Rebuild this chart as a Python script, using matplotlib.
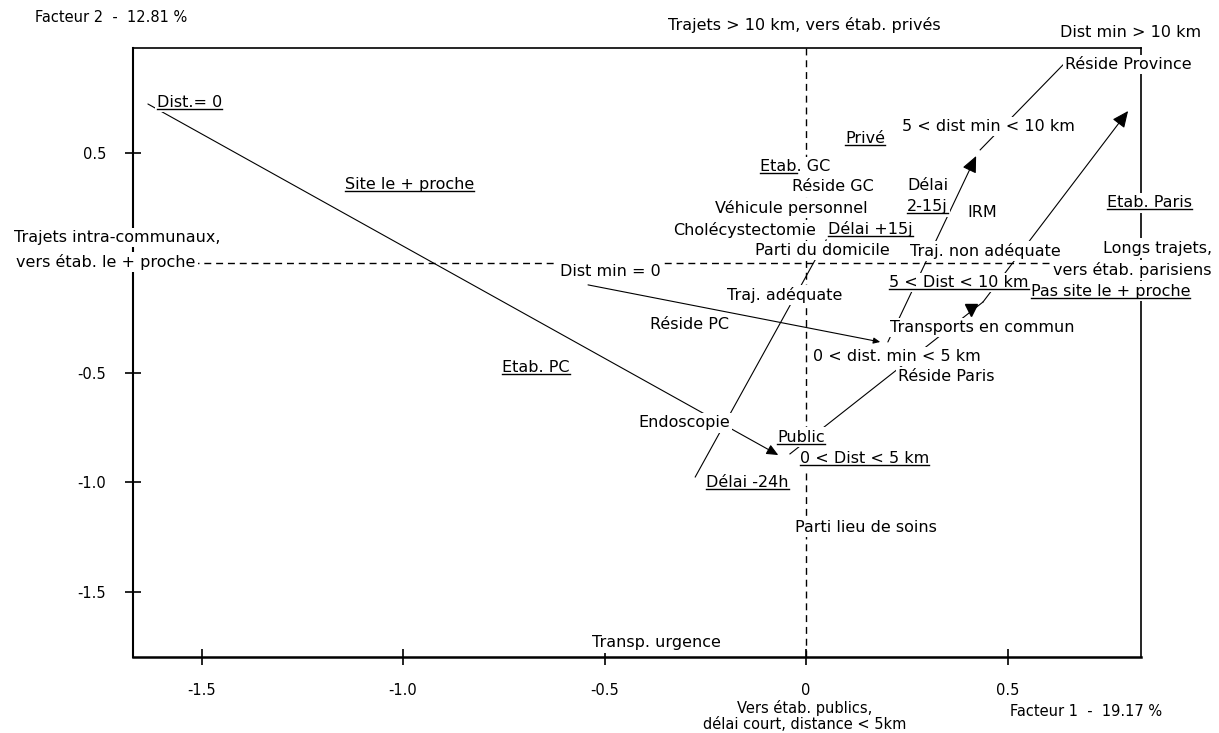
import matplotlib
matplotlib.use("Agg")
import matplotlib.pyplot as plt
from matplotlib.lines import Line2D
from matplotlib.transforms import Bbox

plt.rcParams['font.family'] = ['DejaVu Sans']

# Modalities placed on the factorial plane (Facteur 1, Facteur 2)
mod_labels = [
    "Dist.= 0", "Site le + proche", "Etab. PC", "Dist min = 0", "Réside PC",
    "Traj. adéquate", "Endoscopie", "Public", "0 < Dist < 5 km", "Délai -24h",
    "Parti lieu de soins", "Transp. urgence", "0 < dist. min < 5 km",
    "Réside Paris", "Transports en commun", "5 < Dist < 10 km",
    "Pas site le + proche", "Etab. Paris", "Réside Province",
    "5 < dist min < 10 km", "Privé", "Etab. GC", "Réside GC",
    "Véhicule personnel", "Cholécystectomie", "Délai +15j", "Délai", "2-15j",
    "IRM", "Parti du domicile", "Traj. non adéquate", "Dist min > 10 km",
]
mod_x = [
    -1.610, -1.144, -0.754, -0.610, -0.387,
    -0.196, -0.417, -0.072, -0.015, -0.248,
    -0.027, -0.531, 0.017,
    0.228, 0.208, 0.206,
    0.557, 0.747, 0.643,
    0.238, 0.097, -0.114, -0.035,
    -0.226, -0.330, 0.055, 0.251, 0.251,
    0.400, -0.127, 0.258, 0.630,
]
mod_y = [
    0.733, 0.355, -0.478, -0.041, -0.282,
    -0.146, -0.729, -0.793, -0.893, -1.002,
    -1.203, -1.731, -0.428,
    -0.519, -0.296, -0.091,
    -0.128, 0.273, 0.902,
    0.620, 0.569, 0.437, 0.346,
    0.251, 0.150, 0.155, 0.351, 0.255,
    0.232, 0.055, 0.055, 1.048,
]
# underlined part of each label ("" = none)
mod_underline = [
    "Dist.= 0", "Site le + proche", "Etab. PC", "", "",
    "", "", "Public", "0 < Dist < 5 km", "Délai -24h",
    "", "", "",
    "", "", "5 < Dist < 10 km",
    "Pas site le + proche", "Etab. Paris", "",
    "", "Privé", "Etab", "",
    "", "", "Délai +15j", "", "2-15j",
    "", "", "", "",
]

# Interpretation of the axis directions
dir_labels = [
    "Trajets intra-communaux,", "vers étab. le + proche",
    "Longs trajets,", "vers étab. parisiens",
    "Trajets > 10 km, vers étab. privés",
]
dir_x = [-1.710, -1.737, 1.007, 1.007, -0.342]
dir_y = [0.114, 0.005, 0.068, -0.032, 1.084]
dir_ha = ["center", "center", "right", "right", "left"]

# Trajectories linking ordered modalities
traj_x = [
    [-1.633, -0.069],
    [-0.541, 0.184],
    [0.203, 0.422],
    [0.432, 0.640],
    [-0.275, 0.050],
    [-0.040, 0.439],
    [0.439, 0.799],
]
traj_y = [
    [0.724, -0.875],
    [-0.100, -0.360],
    [-0.360, 0.487],
    [0.515, 0.907],
    [-0.975, 0.105],
    [-0.870, -0.178],
    [-0.178, 0.692],
]
traj_head = [7, 4, 10, 0, 0, 0, 10]

# Isolated arrow head along the distance trajectory
head_x = [0.409]
head_y = [-0.214]

xticks = [-1.5, -1.0, -0.5, 0.0, 0.5]
xtick_labels = ["-1.5", "-1.0", "-0.5", "0", "0.5"]
yticks = [0.5, -0.5, -1.0, -1.5]
ytick_labels = ["0.5", "-0.5", "-1.0", "-1.5"]

fig = plt.figure(figsize=(12.19, 7.33), dpi=100)
ax = fig.add_axes([0.1091, 0.1037, 0.8269, 0.8308])
ax.set_xlim(-1.670, 0.831)
ax.set_ylim(-1.795, 0.979)

for side, lw in (("left", 1.5), ("bottom", 1.8), ("top", 1.2), ("right", 1.2)):
    ax.spines[side].set_linewidth(lw)
    ax.spines[side].set_color("black")

ax.set_xticks(xticks)
ax.set_xticklabels(xtick_labels)
ax.set_yticks(yticks)
ax.set_yticklabels(ytick_labels)
ax.tick_params(axis="x", direction="inout", length=11, width=1.2, labelsize=10.5, pad=13)
ax.tick_params(axis="y", direction="inout", length=11, width=1.2, labelsize=10.5, pad=14)

# Dashed origin lines
ax.axhline(0, color="black", lw=1.0, ls=(0, (5, 3.5)), zorder=1)
ax.axvline(0, color="black", lw=1.0, ls=(0, (5, 3.5)), zorder=1)

# Trajectories
for xs, ys, hs in zip(traj_x, traj_y, traj_head):
    if hs:
        ax.annotate("", xy=(xs[1], ys[1]), xytext=(xs[0], ys[0]),
                    arrowprops=dict(arrowstyle="-|>,head_length=1.0,head_width=0.45",
                                    color="black", lw=0.8, shrinkA=0, shrinkB=0,
                                    mutation_scale=hs),
                    zorder=2)
    else:
        ax.plot(xs, ys, color="black", lw=0.8, zorder=2)
ax.plot(head_x, head_y, marker="v", ms=8, color="black", ls="none", zorder=2)

box = dict(facecolor="white", edgecolor="none", pad=1.5)
label_size = 11.5

for s, x, y, ha in zip(dir_labels, dir_x, dir_y, dir_ha):
    ax.text(x, y, s, ha=ha, va="center", fontsize=label_size,
            bbox=box, zorder=3, clip_on=False)

texts = []
for s, x, y, u in zip(mod_labels, mod_x, mod_y, mod_underline):
    t = ax.text(x, y, s, ha="left", va="center", fontsize=label_size,
                bbox=box, zorder=4, clip_on=False)
    texts.append((t, u))

# Axis titles
fig.text(35 / 1219, 1 - 17 / 733, "Facteur 2  -  12.81 %", ha="left", va="center", fontsize=10.5)
fig.text(1010 / 1219, 1 - 712 / 733, "Facteur 1  -  19.17 %", ha="left", va="center", fontsize=10.5)
fig.text(805 / 1219, 1 - 716 / 733, "Vers étab. publics,\ndélai court, distance < 5km",
         ha="center", va="center", fontsize=10.5, linespacing=1.1)

# Underlines
fig.canvas.draw()
renderer = fig.canvas.get_renderer()
W, H = fig.bbox.width, fig.bbox.height
for t, u in texts:
    if not u:
        continue
    full = t.get_window_extent(renderer)
    if u == t.get_text():
        bb = full
    else:
        tmp = ax.text(*t.get_position(), u, ha="left", va="center", fontsize=label_size)
        part = tmp.get_window_extent(renderer)
        tmp.remove()
        bb = Bbox.from_extents(full.x0, full.y0, full.x0 + part.width, full.y1)
    yline = bb.y0 + 1
    fig.add_artist(Line2D([bb.x0 / W, bb.x1 / W], [yline / H, yline / H],
                          transform=fig.transFigure, color="black", lw=1.0, zorder=6))

fig.savefig("out.png", dpi=100)
